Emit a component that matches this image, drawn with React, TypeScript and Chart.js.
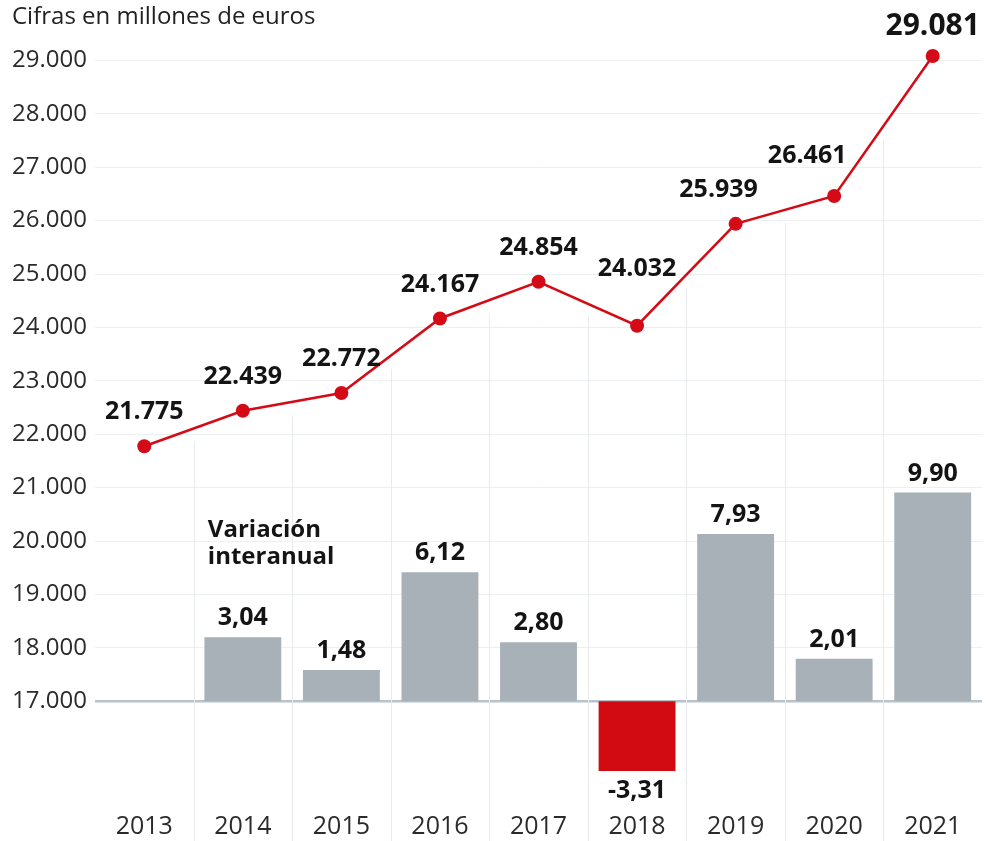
import React, { useEffect, useRef } from 'react';
import { Chart, registerables } from 'chart.js';

Chart.register(...registerables);

const years = ['2013', '2014', '2015', '2016', '2017', '2018', '2019', '2020', '2021'];
const revenue = [21775, 22439, 22772, 24167, 24854, 24032, 25939, 26461, 29081];
const variation: (number | null)[] = [null, 3.04, 1.48, 6.12, 2.8, -3.31, 7.93, 2.01, 9.9];
const yTickMin = 17000;
const yTickMax = 29000;
const subtitle = 'Cifras en millones de euros';
const barNote = ['Variación', 'interanual'];

// label placement (styling only)
const lineLabelOffsets: [number, number][] = [
  [0, -34], [0, -34], [0, -34], [0, -34], [0, -34], [0, -57], [-17, -34], [-27, -40], [0, -30],
];

const RED = '#d40b16';
const GRAY = '#a8b1b7';
const FONT = "'Open Sans', 'Noto Sans', sans-serif";

function fmtThousands(v: number): string {
  const s = Math.round(v).toString();
  return s.replace(/\B(?=(\d{3})+(?!\d))/g, '.');
}
function fmtPct(v: number): string {
  return v.toFixed(2).replace('.', ',');
}

const overlayPlugin = {
  id: 'overlay',
  beforeDatasetsDraw(chart: any) {
    const { ctx } = chart;
    const meta = chart.getDatasetMeta(0);
    ctx.save();
    ctx.strokeStyle = '#e7ebee';
    ctx.lineWidth = 1;
    for (let i = 0; i < meta.data.length - 1; i++) {
      const p0 = meta.data[i];
      const p1 = meta.data[i + 1];
      const bx = Math.round((p0.x + p1.x) / 2) + 0.5;
      const top = (p0.y + p1.y) / 2 + 13;
      ctx.beginPath();
      ctx.moveTo(bx, top);
      ctx.lineTo(bx, chart.height);
      ctx.stroke();
    }
    ctx.restore();
  },
  afterDatasetsDraw(chart: any) {
    const { ctx, scales } = chart;
    ctx.save();
    // line labels
    const lineMeta = chart.getDatasetMeta(0);
    ctx.fillStyle = '#141414';
    ctx.textAlign = 'center';
    ctx.textBaseline = 'middle';
    lineMeta.data.forEach((pt: any, i: number) => {
      const last = i === revenue.length - 1;
      ctx.font = `bold ${last ? 30 : 25}px ${FONT}`;
      const [dx, dy] = lineLabelOffsets[i];
      ctx.fillText(fmtThousands(revenue[i]), pt.x + dx, pt.y + dy);
    });
    // bar labels
    const barMeta = chart.getDatasetMeta(1);
    ctx.font = `bold 25px ${FONT}`;
    barMeta.data.forEach((bar: any, i: number) => {
      const v = variation[i];
      if (v === null || v === undefined) return;
      const y = v >= 0 ? bar.y - 19 : bar.y + 20;
      ctx.fillText(fmtPct(v), bar.x, y);
    });
    // note
    ctx.textAlign = 'left';
    ctx.textBaseline = 'alphabetic';
    ctx.font = `bold 24px ${FONT}`;
    const nx = scales.x.getPixelForValue(1) - 35;
    const ny = scales.y.getPixelForValue(20000) - 4;
    ctx.fillText(barNote[0], nx, ny);
    ctx.fillText(barNote[1], nx, ny + 27);
    // subtitle
    ctx.fillStyle = '#222222';
    ctx.font = `24px ${FONT}`;
    ctx.fillText(subtitle, 12, 24);
    ctx.restore();
  },
};

export default function App() {
  const ref = useRef<HTMLCanvasElement | null>(null);
  useEffect(() => {
    if (!ref.current) return;
    const chart = new Chart(ref.current, {
      type: 'bar',
      data: {
        labels: years,
        datasets: [
          {
            type: 'line',
            data: revenue,
            yAxisID: 'y',
            borderColor: RED,
            backgroundColor: RED,
            borderWidth: 2.5,
            pointRadius: 7,
            pointHoverRadius: 7,
            pointBackgroundColor: RED,
            pointBorderWidth: 0,
            tension: 0,
            order: 0,
          } as any,
          {
            type: 'bar',
            data: variation,
            yAxisID: 'y2',
            backgroundColor: variation.map((v) => (v !== null && v < 0 ? '#d20a12' : GRAY)),
            barPercentage: 0.78,
            categoryPercentage: 1,
            borderWidth: 0,
            order: 1,
          } as any,
        ],
      },
      options: {
        animation: false,
        responsive: false,
        maintainAspectRatio: false,
        layout: { padding: { left: 12, right: 4, top: 0, bottom: 0 } },
        plugins: { legend: { display: false }, tooltip: { enabled: false }, title: { display: false } },
        scales: {
          x: {
            grid: { display: false, drawTicks: false },
            border: { display: false },
            ticks: { font: { family: FONT, size: 25 }, color: '#2b2b2b', padding: 4 },
            afterFit(scale: any) {
              scale.height = 33;
              scale.paddingLeft = 0;
              scale.paddingRight = 0;
            },
          },
          y: {
            min: 15000,
            max: 30000,
            border: { display: false },
            grid: {
              drawTicks: false,
              color: (c: any) => {
                const v = c.tick?.value;
                if (v === yTickMin) return '#b7c3cb';
                if (v > yTickMin && v <= yTickMax) return '#edf0f2';
                return 'rgba(0,0,0,0)';
              },
              lineWidth: (c: any) => (c.tick?.value === yTickMin ? 2.5 : 1),
            },
            ticks: {
              stepSize: 1000,
              crossAlign: 'far',
              padding: 0,
              font: { family: FONT, size: 24 },
              color: '#2b2b2b',
              callback: (v: any) => (v >= yTickMin && v <= yTickMax ? fmtThousands(v) : ''),
            },
            afterFit(scale: any) {
              scale.width = 83;
              scale.paddingTop = 0;
              scale.paddingBottom = 0;
            },
          },
          y2: {
            display: false,
            min: -5.06,
            max: 32.91,
          },
        },
      },
      plugins: [overlayPlugin],
    } as any);
    return () => chart.destroy();
  }, []);
  return (
    <div style={{ position: 'absolute', left: 0, top: 0, width: 989, height: 841, background: '#fff' }}>
      <canvas ref={ref} width={989} height={841} style={{ width: 989, height: 841, display: 'block' }} />
    </div>
  );
}
